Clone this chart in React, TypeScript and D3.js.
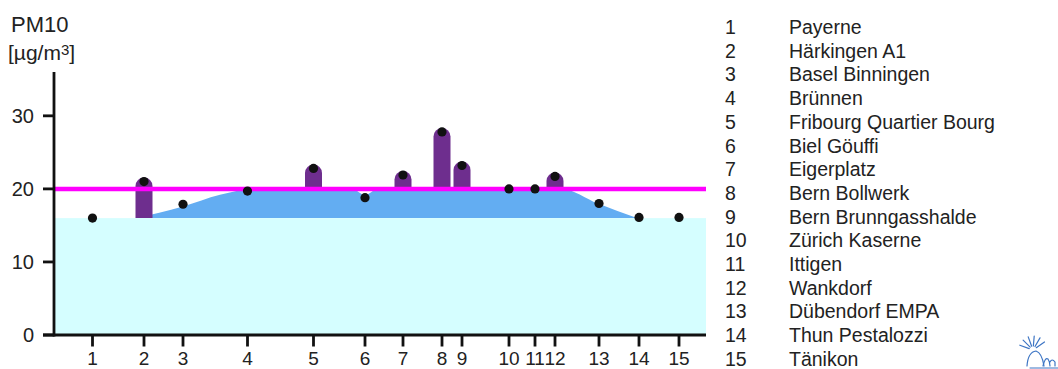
import React from "react";
import * as d3 from "d3";

const stationIds = ["1", "2", "3", "4", "5", "6", "7", "8", "9", "10", "11", "12", "13", "14", "15"];
const stationNames = [
  "Payerne",
  "Härkingen A1",
  "Basel Binningen",
  "Brünnen",
  "Fribourg Quartier Bourg",
  "Biel Göuffi",
  "Eigerplatz",
  "Bern Bollwerk",
  "Bern Brunngasshalde",
  "Zürich Kaserne",
  "Ittigen",
  "Wankdorf",
  "Dübendorf EMPA",
  "Thun Pestalozzi",
  "Tänikon",
];
// position of each station along the x axis (axis units, 0..652)
const stationPos = [38.5, 90, 129, 193.5, 259.5, 311, 349, 388, 408, 455, 481, 501, 545, 585, 625];
const pm10Values = [16.0, 21.0, 17.9, 19.7, 22.8, 18.8, 21.9, 27.8, 23.2, 20.0, 20.0, 21.7, 18.0, 16.1, 16.1];
const backgroundAtStation = [16, 16, 17.6, 19.8, 20, 19.2, 20, 20, 20, 20, 20, 20, 18, 16, 16];
const envelopePos = [81.5, 129, 166, 201, 298, 311, 324, 507.5, 544, 583];
const envelopeVal = [16, 17.6, 19.2, 20, 20, 19.2, 20, 20, 18, 16];
const baseLevel = 16;
const limitValue = 20;
const yTicks = [0, 10, 20, 30];

const FONT = "'Liberation Sans', Arial, Helvetica, sans-serif";

export default function App() {
  const x = d3.scaleLinear().domain([0, 652]).range([54, 706]);
  const y = d3.scaleLinear().domain([0, 36]).range([335, 72]);

  const envPts = envelopePos.map((p, i) => [p, envelopeVal[i]] as [number, number]);
  const envArea = d3
    .area<[number, number]>()
    .x((d) => x(d[0]))
    .y0(() => y(baseLevel))
    .y1((d) => y(d[1]))
    .curve(d3.curveMonotoneX)(envPts);

  const barW = 17;
  const r = barW / 2;
  const bars = pm10Values
    .map((v, i) => ({ v, i }))
    .filter((d) => d.v > limitValue)
    .map(({ v, i }) => {
      const cx = x(stationPos[i]);
      const top = y(v) - 4;
      const bottom = y(backgroundAtStation[i]);
      return `M${cx - r},${bottom}L${cx - r},${top + r}A${r},${r} 0 0 1 ${cx + r},${top + r}L${cx + r},${bottom}Z`;
    });

  const rowY = (i: number) => 34 + i * 23.7;

  return (
    <svg
      width={1058}
      height={369}
      style={{ position: "absolute", left: 0, top: 0, background: "#fff" }}
      fontFamily={FONT}
    >
      {/* background level */}
      <rect x={x(0)} y={y(baseLevel)} width={x(652) - x(0)} height={y(0) - y(baseLevel)} fill="#d5feff" />
      {/* regional envelope */}
      <path d={envArea || ""} fill="#63adf2" />
      {/* exceedance bars */}
      {bars.map((d, i) => (
        <path key={i} d={d} fill="#6e2e8e" />
      ))}
      {/* limit line */}
      <line x1={x(0)} x2={x(652)} y1={y(limitValue)} y2={y(limitValue)} stroke="#ff00ff" strokeWidth={4.5} />
      {/* dots */}
      {pm10Values.map((v, i) => (
        <circle key={i} cx={x(stationPos[i])} cy={y(v)} r={4.6} fill="#111" />
      ))}

      {/* axes */}
      <line x1={x(0)} x2={x(0)} y1={y(36)} y2={y(0) + 1.4} stroke="#111" strokeWidth={2.8} />
      <line x1={43} x2={x(652)} y1={y(0)} y2={y(0)} stroke="#111" strokeWidth={2.8} />
      {yTicks.map((t) => (
        <g key={t}>
          <line x1={43} x2={x(0)} y1={y(t)} y2={y(t)} stroke="#111" strokeWidth={2.8} />
          <text x={34} y={y(t) + 7} textAnchor="end" fontSize={20} fill="#222">
            {t}
          </text>
        </g>
      ))}
      {stationPos.map((p, i) => (
        <g key={i}>
          <line x1={x(p)} x2={x(p)} y1={y(0)} y2={y(0) + 11.5} stroke="#111" strokeWidth={2.8} />
          <text x={x(p)} y={365} textAnchor="middle" fontSize={19} fill="#222">
            {stationIds[i]}
          </text>
        </g>
      ))}

      {/* title */}
      <text x={11} y={32} fontSize={22} fill="#222">
        PM10
      </text>
      <text x={8} y={60} fontSize={21} fill="#222">
        [µg/m<tspan fontSize={15} dy={-5}>3</tspan>
        <tspan dy={5}>]</tspan>
      </text>

      {/* legend */}
      {stationNames.map((n, i) => (
        <g key={i}>
          <text x={725} y={rowY(i)} fontSize={19.5} fill="#222">
            {stationIds[i]}
          </text>
          <text x={789} y={rowY(i)} fontSize={19.5} fill="#222">
            {n}
          </text>
        </g>
      ))}

      {/* small logo */}
      <g stroke="#3d75c4" strokeWidth={1.2} fill="none" strokeLinecap="round">
        {[-160, -135, -110, -85, -60, -35].map((a) => {
          const rad = (a * Math.PI) / 180;
          return (
            <line
              key={a}
              x1={1033 + Math.cos(rad) * 4}
              y1={350 + Math.sin(rad) * 4}
              x2={1033 + Math.cos(rad) * 14}
              y2={350 + Math.sin(rad) * 14}
            />
          );
        })}
        <path d="M1027,366 Q1028,352 1036,351 Q1042,353 1044,366" />
        <path d="M1043,366 Q1045,357 1048,359 Q1050,362 1050,366 M1050,362 Q1052,358 1055,362 L1055,366" />
        <line x1={1030} x2={1058} y1={368} y2={368} strokeWidth={1} />
      </g>
    </svg>
  );
}
